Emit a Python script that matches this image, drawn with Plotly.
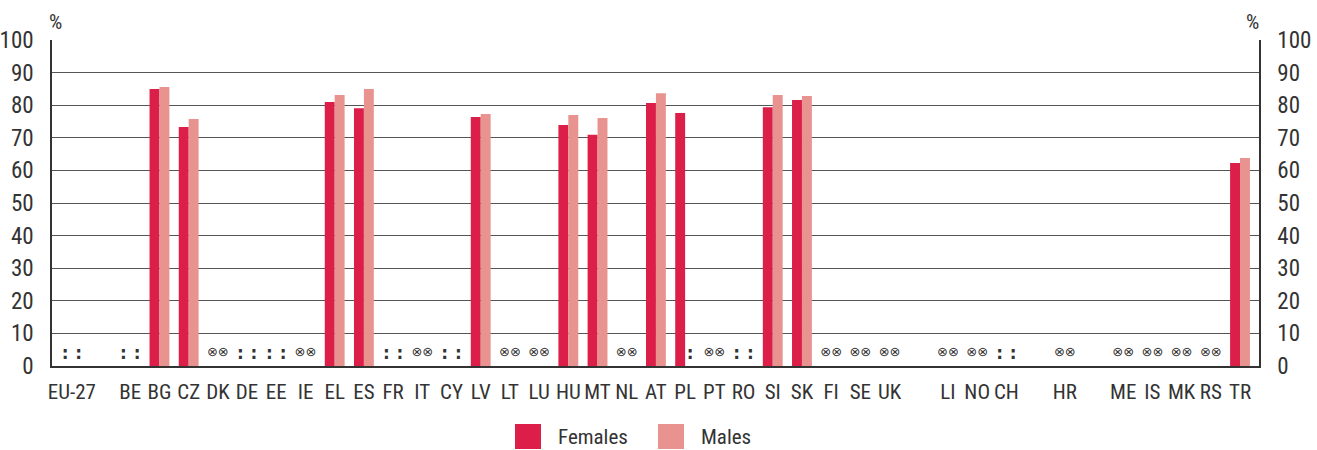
import plotly.graph_objects as go

categories = ["EU-27", "", "BE", "BG", "CZ", "DK", "DE", "EE", "IE", "EL", "ES", "FR", "IT", "CY",
              "LV", "LT", "LU", "HU", "MT", "NL", "AT", "PL", "PT", "RO", "SI", "SK", "FI", "SE",
              "UK", " ", "LI", "NO", "CH", "  ", "HR", "   ", "ME", "IS", "MK", "RS", "TR"]
N = None
females = [N, N, N, 85.0, 73.3, N, N, N, N, 81.0, 79.1, N, N, N,
           76.4, N, N, 73.9, 70.9, N, 80.7, 77.6, N, N, 79.4, 81.6, N, N,
           N, N, N, N, N, N, N, N, N, N, N, N, 62.3]
males = [N, N, N, 85.6, 75.8, N, N, N, N, 83.1, 85.0, N, N, N,
         77.3, N, N, 77.0, 76.1, N, 83.7, N, N, N, 83.1, 82.8, N, N,
         N, N, N, N, N, N, N, N, N, N, N, N, 63.8]
# flags for missing values: ":" not available, "⊗" confidential / unreliable
females_flag = [":", "", ":", "", "", "⊗", ":", ":", "⊗", "", "", ":", "⊗", ":",
                "", "⊗", "⊗", "", "", "⊗", "", "", "⊗", ":", "", "", "⊗", "⊗",
                "⊗", "", "⊗", "⊗", ":", "", "⊗", "", "⊗", "⊗", "⊗", "⊗", ""]
males_flag = [":", "", ":", "", "", "⊗", ":", ":", "⊗", "", "", ":", "⊗", ":",
              "", "⊗", "⊗", "", "", "⊗", "", ":", "⊗", ":", "", "", "⊗", "⊗",
              "⊗", "", "⊗", "⊗", ":", "", "⊗", "", "⊗", "⊗", "⊗", "⊗", ""]
y_ticks = list(range(0, 101, 10))

F_COLOR = "#DB1F48"
M_COLOR = "#E8938F"
TXT = "#333333"
FONT = "Roboto Condensed, Liberation Sans Narrow, Roboto, sans-serif"
GRID = "#555555"

W, H = 1317, 450
ML, MR, MT, MB = 52, 58, 40, 84
PW, PH = W - ML - MR, H - MT - MB

x = list(range(len(categories)))
BAR_W = 0.34

fig = go.Figure()
fig.add_trace(go.Bar(x=[i - BAR_W / 2 for i in x], y=females, width=BAR_W, marker_color=F_COLOR,
                     marker_line_width=0, name="Females", showlegend=False))
fig.add_trace(go.Bar(x=[i + BAR_W / 2 for i in x], y=males, width=BAR_W, marker_color=M_COLOR,
                     marker_line_width=0, name="Males", showlegend=False))

# flag markers: pairs drawn as one text at the category centre, single flags at the bar position
flag_pos = {":": [], "⊗": []}
for i in x:
    f, m = females_flag[i], males_flag[i]
    if f and f == m:
        flag_pos[f].append((i, (":\u2009\u2009:" if f == ":" else "⊗⊗")))
    else:
        if f:
            flag_pos[f].append((i - BAR_W / 2, f))
        if m:
            flag_pos[m].append((i + BAR_W / 2, m))

styles = {":": (dict(family="DejaVu Sans", size=17, color=TXT, weight="bold"), 3.4),
          "⊗": (dict(family="DejaVu Sans", size=13, color=TXT), 4.2)}
for sym, items in flag_pos.items():
    fnt, yv = styles[sym]
    fig.add_trace(go.Scatter(x=[p for p, _ in items], y=[yv] * len(items), mode="text",
                             text=[t for _, t in items], textfont=fnt,
                             showlegend=False, hoverinfo="skip"))

# invisible trace for right axis
fig.add_trace(go.Scatter(x=[0], y=[0], yaxis="y2", mode="markers", marker_opacity=0,
                         showlegend=False, hoverinfo="skip"))

fig.update_layout(
    width=W, height=H,
    margin=dict(l=ML, r=MR, t=MT, b=MB, autoexpand=False),
    paper_bgcolor="white", plot_bgcolor="white",
    barmode="overlay",
    font=dict(family=FONT, color=TXT, size=20),
    xaxis=dict(range=[-0.68, 40.65], tickvals=x, ticktext=categories, showgrid=False,
               ticks="", tickfont=dict(size=21, color=TXT), ticklabelstandoff=6,
               showline=True, linecolor="#333", linewidth=1.5, mirror=False, zeroline=False),
    yaxis=dict(range=[0, 100], tickvals=y_ticks, showgrid=True, gridcolor=GRID, gridwidth=1.3,
               ticks="", tickfont=dict(size=23, color=TXT), ticklabelstandoff=12,
               showline=True, linecolor="#333", linewidth=1.5, zeroline=False),
    yaxis2=dict(range=[0, 100], tickvals=y_ticks, overlaying="y", side="right", showgrid=False,
                ticks="", tickfont=dict(size=23, color=TXT), ticklabelstandoff=12,
                showline=True, linecolor="#333", linewidth=1.5, zeroline=False),
)

fig.add_annotation(x=0, xref="paper", xanchor="center", y=1, yref="paper", yanchor="bottom",
                   xshift=3, yshift=4, text="%", showarrow=False, font=dict(size=21, color=TXT))
fig.add_annotation(x=1, xref="paper", xanchor="center", y=1, yref="paper", yanchor="bottom",
                   xshift=-7, yshift=4, text="%", showarrow=False, font=dict(size=21, color=TXT))

# manual legend (paper coordinates)
legend_items = [("Females", F_COLOR, 515), ("Males", M_COLOR, 658)]
for name, col, px in legend_items:
    fig.add_shape(type="rect", xref="paper", yref="paper",
                  x0=(px - ML) / PW, x1=(px + 26 - ML) / PW,
                  y0=-(424 + 26 - 1 - MT - PH) / PH, y1=-(424 - MT - PH) / PH,
                  line_width=0, fillcolor=col)
    fig.add_annotation(x=(px + 41 - ML) / PW, xref="paper", xanchor="left",
                       y=-(437 - MT - PH) / PH, yref="paper", yanchor="middle",
                       text=name, showarrow=False, font=dict(size=21, color=TXT))

fig.write_html("out.html", config={"displayModeBar": False})
with open("out.html", encoding="utf-8") as fh:
    html = fh.read()
html = html.replace("<head>", "<head><style>html,body{margin:0;padding:0;overflow:hidden;}</style>", 1)
with open("out.html", "w", encoding="utf-8") as fh:
    fh.write(html)
